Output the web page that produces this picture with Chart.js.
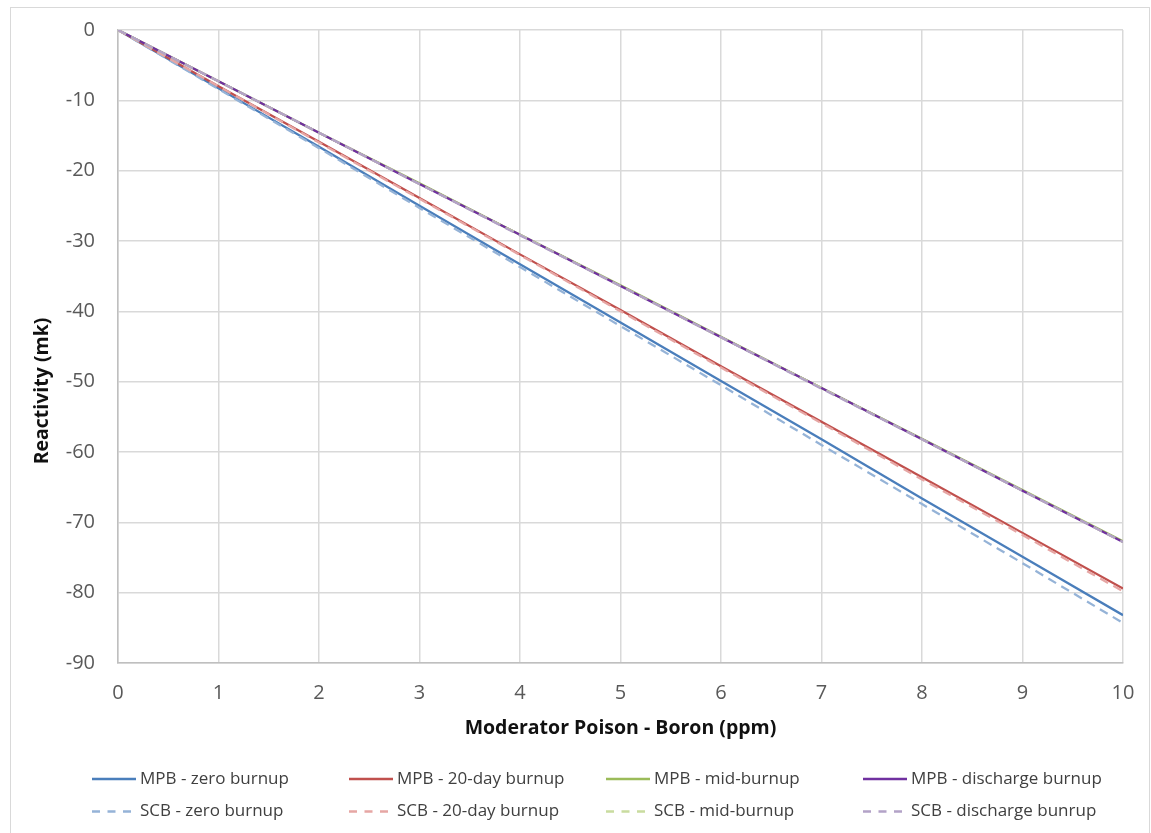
<!DOCTYPE html>
<html>
<head>
<meta charset="utf-8">
<script src="https://cdn.jsdelivr.net/npm/chart.js@4/dist/chart.umd.min.js"></script>
<style>
html,body{margin:0;padding:0;background:#fff;}
#wrap{position:relative;width:1151px;height:833px;}
#frame{position:absolute;left:10px;top:7px;width:1140px;height:830px;border:1px solid #d9d9d9;box-sizing:border-box;pointer-events:none;}
canvas{position:absolute;left:0;top:0;}
</style>
</head>
<body>
<div id="wrap">
<canvas id="c" width="1151" height="833"></canvas>
<div id="frame"></div>
</div>
<script>
// ---- data ----
const boronPpm = [0, 1, 2, 3, 4, 5, 6, 7, 8, 9, 10];
const mpbZero      = [0, -8.3, -16.6, -25.0, -33.3, -41.6, -49.9, -58.2, -66.6, -74.9, -83.2];
const mpb20Day     = [0, -8.0, -15.9, -23.9, -31.9, -39.8, -47.8, -55.7, -63.6, -71.5, -79.4];
const mpbMid       = [0, -7.3, -14.6, -21.8, -29.1, -36.3, -43.6, -50.9, -58.1, -65.4, -72.7];
const mpbDischarge = [0, -7.3, -14.6, -21.9, -29.1, -36.4, -43.7, -50.9, -58.2, -65.5, -72.8];
const scbZero      = [0, -8.4, -16.8, -25.3, -33.7, -42.1, -50.5, -59.0, -67.4, -75.8, -84.3];
const scb20Day     = [0, -8.0, -16.0, -24.0, -32.0, -40.0, -48.0, -55.9, -63.9, -71.8, -79.8];
const scbMid       = [0, -7.3, -14.6, -21.9, -29.1, -36.4, -43.7, -50.9, -58.2, -65.5, -72.8];
const scbDischarge = [0, -7.3, -14.6, -21.9, -29.2, -36.4, -43.7, -51.0, -58.2, -65.5, -72.8];
const seriesLabels = [
  'MPB - zero burnup', 'MPB - 20-day burnup', 'MPB - mid-burnup', 'MPB - discharge burnup',
  'SCB - zero burnup', 'SCB - 20-day burnup', 'SCB - mid-burnup', 'SCB - discharge bunrup'
];
const seriesValues = [mpbZero, mpb20Day, mpbMid, mpbDischarge, scbZero, scb20Day, scbMid, scbDischarge];
const xTitle = 'Moderator Poison - Boron (ppm)';
const yTitle = 'Reactivity (mk)';

// ---- styles ----
const colors = ['#4a7ebb', '#c0504d', '#9bbb59', '#7030a0', '#95b3d7', '#e6a6a4', '#c9dc9f', '#b3a2c7'];
const dashed = [false, false, false, false, true, true, true, true];
const FONT = "'Open Sans', 'Noto Sans', sans-serif";

const datasets = seriesValues.map((vals, i) => ({
  label: seriesLabels[i],
  data: boronPpm.map((x, j) => ({x: x, y: vals[j]})),
  borderColor: colors[i],
  backgroundColor: colors[i],
  borderWidth: 2.25,
  borderDash: dashed[i] ? [9, 6] : [],
  pointRadius: 0,
  tension: 0,
  fill: false,
  order: 20 - i
}));

const legendPlugin = {
  id: 'gridLegend',
  afterDraw(chart) {
    const ctx = chart.ctx;
    const colX = [92, 349, 606, 863];
    const rowY = [779, 811.5];
    ctx.save();
    ctx.font = '17px ' + FONT;
    ctx.textBaseline = 'middle';
    ctx.textAlign = 'left';
    chart.data.datasets.forEach((ds, i) => {
      const x = colX[i % 4];
      const y = rowY[Math.floor(i / 4)];
      ctx.beginPath();
      ctx.strokeStyle = ds.borderColor;
      ctx.lineWidth = 2.5;
      ctx.setLineDash(ds.borderDash && ds.borderDash.length ? [8, 7.5] : []);
      ctx.moveTo(x, y);
      ctx.lineTo(x + 44, y);
      ctx.stroke();
      ctx.setLineDash([]);
      ctx.fillStyle = '#404040';
      ctx.fillText(ds.label, x + 48, y);
    });
    // y axis title (positioned like the original, below axis centre)
    ctx.save();
    ctx.translate(42, 391);
    ctx.rotate(-Math.PI / 2);
    ctx.font = 'bold 19.5px ' + FONT;
    ctx.fillStyle = '#111';
    ctx.textAlign = 'center';
    ctx.textBaseline = 'middle';
    ctx.fillText(yTitle, 0, 0);
    ctx.restore();
    ctx.restore();
  }
};

new Chart(document.getElementById('c'), {
  type: 'line',
  data: {datasets: datasets},
  plugins: [legendPlugin],
  options: {
    responsive: false,
    animation: false,
    layout: {padding: {top: 30, right: 28, left: 0, bottom: 80}},
    plugins: {legend: {display: false}, tooltip: {enabled: false}},
    scales: {
      x: {
        type: 'linear',
        min: 0, max: 10,
        afterFit(scale) { scale.height = 90; scale.paddingLeft = 0; scale.paddingRight = 0; },
        ticks: {stepSize: 1, padding: 18, color: '#595959', font: {family: FONT, size: 20}},
        grid: {color: '#d9d9d9', lineWidth: 1.5, drawTicks: false},
        border: {color: '#bfbfbf', width: 1.5},
        title: {display: true, text: xTitle, color: '#111', font: {family: FONT, size: 19.5, weight: 'bold'}, padding: {top: 0, bottom: 13}}
      },
      y: {
        type: 'linear',
        min: -90, max: 0,
        afterFit(scale) { scale.width = 118; scale.paddingTop = 0; scale.paddingBottom = 0; },
        ticks: {stepSize: 10, padding: 23, color: '#595959', font: {family: FONT, size: 20}},
        grid: {color: '#d9d9d9', lineWidth: 1.5, drawTicks: false},
        border: {color: '#bfbfbf', width: 1.5},
        title: {display: false, text: yTitle}
      }
    }
  }
});
</script>
</body>
</html>
